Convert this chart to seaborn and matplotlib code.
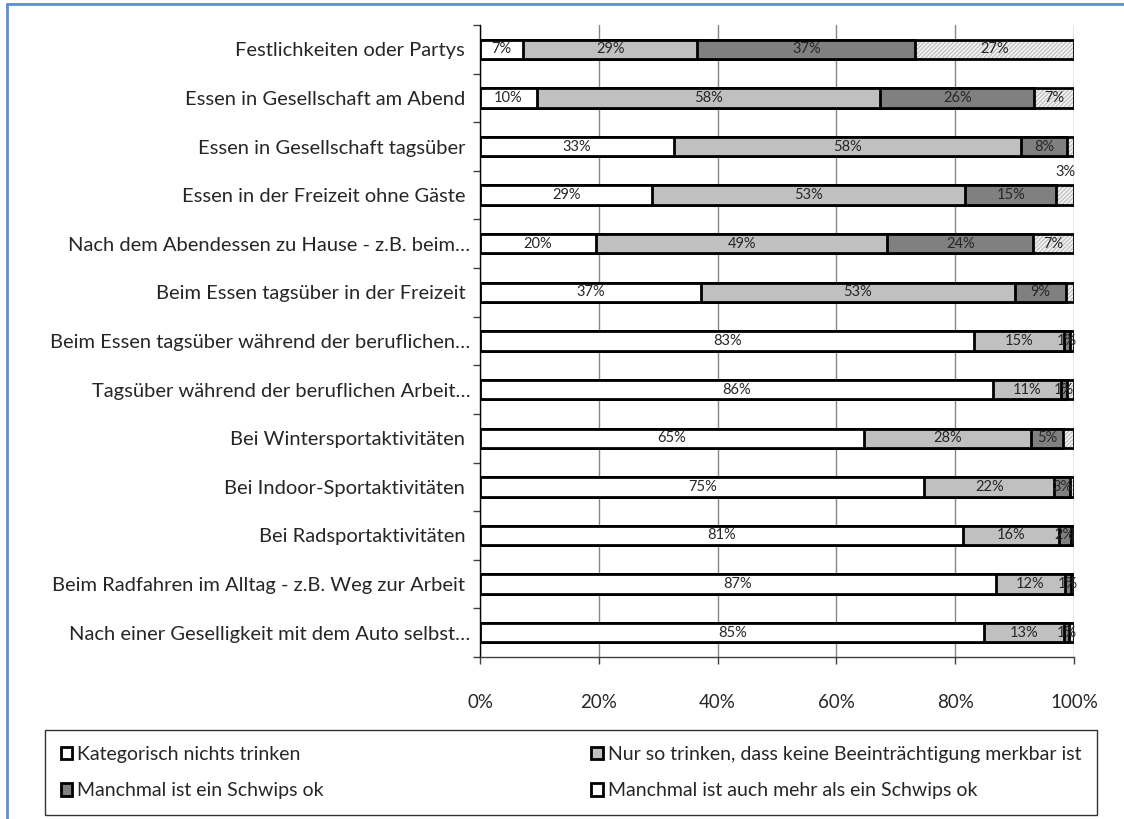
import numpy as np
import pandas as pd
import seaborn as sns
import matplotlib.pyplot as plt
from matplotlib.patches import Patch
from matplotlib.lines import Line2D

# Data (percent)
categories = [
    "Festlichkeiten oder Partys ",
    "Essen in Gesellschaft am Abend ",
    "Essen in Gesellschaft tagsüber ",
    "Essen in der Freizeit ohne Gäste ",
    "Nach dem Abendessen zu Hause - z.B. beim…",
    "Beim Essen tagsüber in der Freizeit ",
    "Beim Essen tagsüber während der beruflichen…",
    "Tagsüber während der beruflichen Arbeit…",
    "Bei Wintersportaktivitäten ",
    "Bei Indoor-Sportaktivitäten ",
    "Bei Radsportaktivitäten ",
    "Beim Radfahren im Alltag - z.B. Weg zur Arbeit ",
    "Nach einer Geselligkeit mit dem Auto selbst…",
]
kategorisch = [7.3, 9.6, 32.6, 29.0, 19.5, 37.2, 83.2, 86.4, 64.6, 74.8, 81.3, 86.8, 84.9]
nur_so = [29.3, 57.8, 58.4, 52.7, 49.1, 52.8, 15.1, 11.4, 28.2, 21.9, 16.1, 11.7, 13.4]
schwips = [36.7, 25.9, 7.9, 15.3, 24.5, 8.6, 1.0, 1.1, 5.4, 2.6, 2.1, 1.0, 0.9]
mehr = [26.7, 6.7, 1.1, 3.0, 6.9, 1.4, 0.7, 1.1, 1.8, 0.7, 0.5, 0.5, 0.8]

series_names = [
    "Kategorisch nichts trinken",
    "Nur so trinken, dass keine Beeinträchtigung merkbar ist",
    "Manchmal ist ein Schwips ok",
    "Manchmal ist auch mehr als ein Schwips ok",
]
xticks = [0, 20, 40, 60, 80, 100]

sns.set_style("white")
plt.rcParams['font.family'] = ['Lato', 'DejaVu Sans']
plt.rcParams['hatch.linewidth'] = 1.3

df = pd.DataFrame({"cat": categories, "a": kategorisch, "b": nur_so, "c": schwips, "d": mehr})
cum = df[["a", "b", "c", "d"]].cumsum(axis=1)

fig = plt.figure(figsize=(11.24, 8.19), dpi=100)
ax = fig.add_axes([480 / 1124, 1 - 657 / 819, 594 / 1124, 632 / 819])

bw = 0.4
# hatched layer (total), then outline, then the stacked layers on top
sns.barplot(x=cum["d"], y=df["cat"], orient="h", order=categories, color="white",
            edgecolor="#c8c8c8", linewidth=0, hatch="////////", width=bw,
            errorbar=None, ax=ax)
sns.barplot(x=cum["d"], y=df["cat"], orient="h", order=categories, color="black",
            fill=False, linewidth=2, width=bw, errorbar=None, ax=ax)
for col, c in [("c", "#808080"), ("b", "#c0c0c0"), ("a", "white")]:
    sns.barplot(x=cum[col], y=df["cat"], orient="h", order=categories, color=c,
                edgecolor="black", linewidth=2, width=bw, errorbar=None,
                saturation=1, ax=ax)

# segment labels
lab_fs = 10.5
for i in range(len(categories)):
    left = 0
    for j, col in enumerate(["a", "b", "c", "d"]):
        v = df[col][i]
        txt = f"{v:.0f}%"
        if j == 3:
            if v >= 5:
                ax.text(left + v / 2, i, txt, ha="center", va="center", fontsize=lab_fs)
            elif v >= 2.5:
                ax.text(100.2, i - 0.47, txt, ha="right", va="center", fontsize=lab_fs)
        elif v >= 0.85:
            ax.text(left + v / 2, i, txt, ha="center", va="center", fontsize=lab_fs)
        left += v

ax.set_xlim(0, 100)
ax.set_ylim(len(categories) - 0.5, -0.5)
ax.set_xticks(xticks)
ax.set_xticklabels([f"{t}%" for t in xticks], fontsize=13.5)
ax.tick_params(axis="x", length=5, width=1, color="#404040", pad=22, bottom=True)
ax.set_yticks(range(len(categories)))
ax.set_yticklabels(categories, fontsize=14.5)
ax.tick_params(axis="y", length=0, pad=7)
ax.set_yticks(np.arange(-0.5, len(categories), 1), minor=True)
ax.tick_params(axis="y", which="minor", length=5, width=1, color="#404040", left=True)
ax.set_xlabel("")
ax.set_ylabel("")
ax.grid(axis="x", color="#868686", linewidth=1)
ax.set_axisbelow(True)
for s in ["top", "right"]:
    ax.spines[s].set_visible(False)
ax.spines["left"].set_color("black")
ax.spines["left"].set_linewidth(1)
ax.spines["bottom"].set_color("#404040")
ax.spines["bottom"].set_linewidth(1)

# legend
fills = ["white", "#c0c0c0", "#808080", "white"]
handles = [Patch(facecolor=f, edgecolor="black", linewidth=2) for f in fills]
order = [0, 2, 1, 3]
leg = fig.legend([handles[k] for k in order], [series_names[k] for k in order],
                 ncol=2, loc="lower left", mode="expand",
                 bbox_to_anchor=(45 / 1124, 4 / 819, 1052 / 1124, 82 / 819),
                 fontsize=14, frameon=True, fancybox=False, edgecolor="black",
                 handlelength=0.6, handleheight=0.6, handletextpad=0.25,
                 labelspacing=1.0, borderpad=0.8, borderaxespad=0)
leg.get_frame().set_linewidth(1)

# blue outer frame
blue = "#5b8ed6"
fig.add_artist(Line2D([7 / 1124, 7 / 1124], [0, 1 - 4 / 819], color=blue, lw=2))
fig.add_artist(Line2D([7 / 1124, 1], [1 - 4 / 819, 1 - 4 / 819], color=blue, lw=2))

fig.savefig("out.png", dpi=100)
